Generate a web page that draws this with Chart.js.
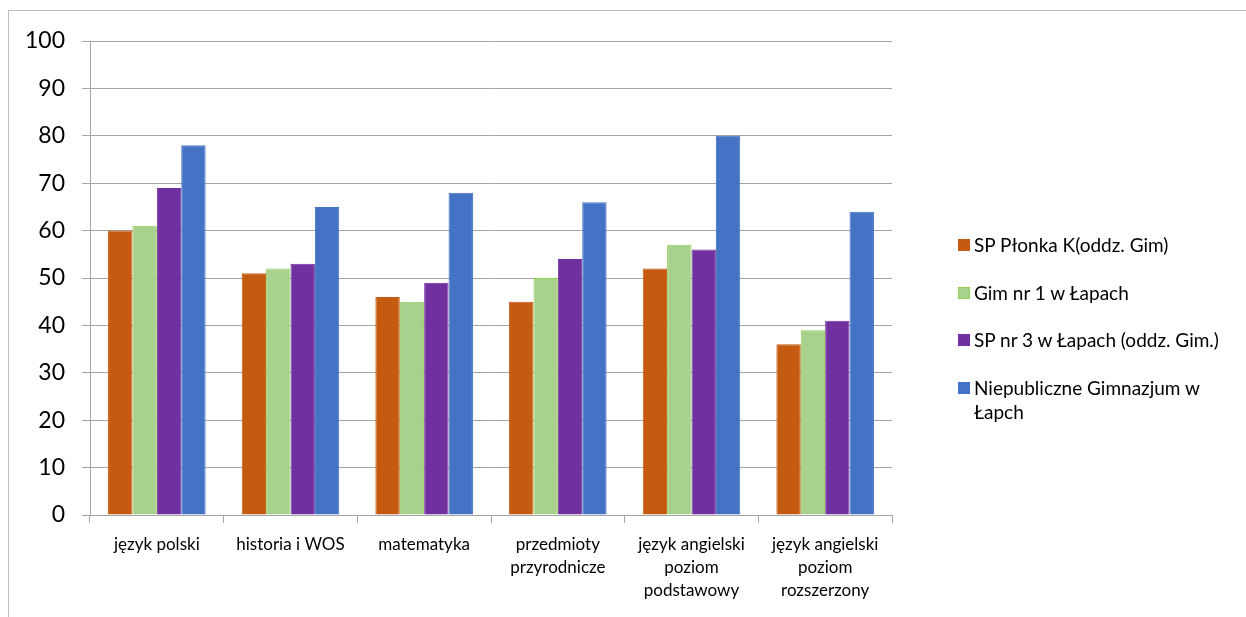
<!DOCTYPE html>
<html>
<head>
<meta charset="utf-8">
<script src="https://cdn.jsdelivr.net/npm/chart.js@4"></script>
<style>
  body { margin: 0; background: #fff; }
  #wrap { position: relative; width: 1246px; height: 617px; overflow: hidden; }
  #frame { position: absolute; left: 8px; top: 10px; width: 1250px; height: 620px; border: 1px solid #bfbfbf; box-sizing: border-box; }
  canvas { position: absolute; left: 0; top: 0; }
  #legend { position: absolute; left: 958px; top: 233px; font-family: Lato, "Open Sans", sans-serif; font-size: 19px; color: #000; }
  .item { position: relative; padding-left: 16px; width: 254px; line-height: 24px; height: 47.5px; }
  .box { position: absolute; left: 0; top: 6px; width: 12px; height: 12px; box-sizing: border-box; }
</style>
</head>
<body>
<div id="wrap">
  <div id="frame"></div>
  <canvas id="chart" width="1246" height="617"></canvas>
  <div id="legend"></div>
</div>
<script>
// Data
const categories = [
  'język polski',
  'historia i WOS',
  'matematyka',
  ['przedmioty', 'przyrodnicze'],
  ['język angielski', 'poziom', 'podstawowy'],
  ['język angielski', 'poziom', 'rozszerzony']
];
const seriesNames = [
  'SP Płonka K(oddz. Gim)',
  'Gim nr 1 w Łapach',
  'SP nr 3 w Łapach (oddz. Gim.)',
  'Niepubliczne Gimnazjum w Łapch'
];
const spPlonka = [60, 51, 46, 45, 52, 36];
const gim1 = [61, 52, 45, 50, 57, 39];
const sp3 = [69, 53, 49, 54, 56, 41];
const niepubliczne = [78, 65, 68, 66, 80, 64];

const fills = ['#C55A11', '#A9D18E', '#7030A0', '#4472C4'];
const borders = ['#C55A11', '#92D050', '#7030A0', '#4472C4'];
const values = [spPlonka, gim1, sp3, niepubliczne];

const datasets = values.map((v, i) => ({
  label: seriesNames[i],
  data: v,
  backgroundColor: fills[i],
  borderColor: borders[i],
  borderWidth: 1,
  categoryPercentage: 0.73,
  barPercentage: 1
}));

const font = { family: 'Lato, "Open Sans", sans-serif' };

new Chart(document.getElementById('chart').getContext('2d'), {
  type: 'bar',
  data: { labels: categories, datasets: datasets },
  options: {
    responsive: false,
    animation: false,
    layout: { padding: { left: 0, top: 41, right: 354, bottom: 0 } },
    plugins: { legend: { display: false }, tooltip: { enabled: false } },
    scales: {
      x: {
        grid: { offset: true, drawOnChartArea: false, tickLength: 8, color: '#a6a6a6' },
        border: { color: '#a6a6a6' },
        ticks: { color: '#000', font: { ...font, size: 17, lineHeight: 1.35 }, padding: 10, maxRotation: 0, autoSkip: false },
        afterFit: s => { s.height = 102; }
      },
      y: {
        min: 0,
        max: 100,
        ticks: { stepSize: 10, color: '#000', font: { ...font, size: 23 }, padding: 17 },
        grid: { color: '#a6a6a6', tickLength: 8 },
        border: { color: '#a6a6a6' },
        afterFit: s => { s.width = 90; }
      }
    }
  }
});

// Legend
const legend = document.getElementById('legend');
seriesNames.forEach((name, i) => {
  const item = document.createElement('div');
  item.className = 'item';
  item.innerHTML = `<span class="box" style="background:${fills[i]};border:1px solid ${borders[i]}"></span>${name}`;
  legend.appendChild(item);
});
</script>
</body>
</html>
